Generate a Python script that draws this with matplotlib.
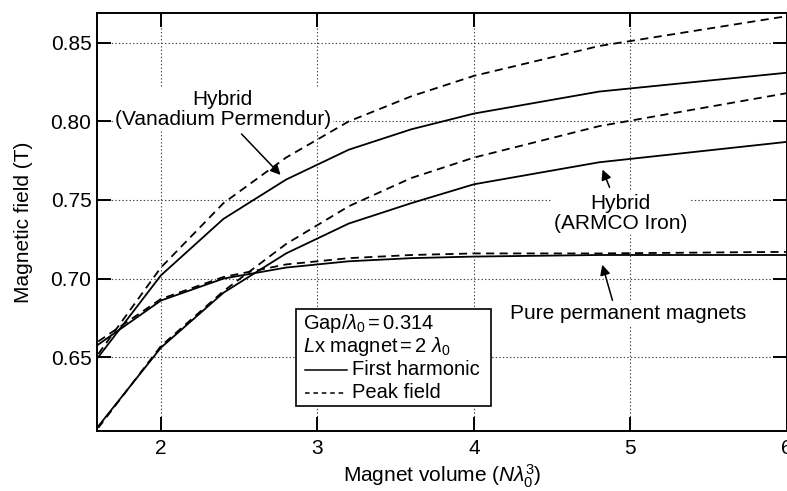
import matplotlib
matplotlib.use("Agg")
import matplotlib.pyplot as plt
from matplotlib.lines import Line2D
from matplotlib.patches import Rectangle

plt.rcParams['font.family'] = ['Liberation Sans', 'DejaVu Sans']
plt.rcParams['mathtext.fontset'] = 'custom'
plt.rcParams['mathtext.rm'] = 'Liberation Sans'
plt.rcParams['mathtext.it'] = 'Liberation Sans:italic'
plt.rcParams['mathtext.bf'] = 'Liberation Sans:bold'

# Magnet volume (N lambda0^3)
volume = [1.6, 2.0, 2.4, 2.8, 3.2, 3.6, 4.0, 4.8, 6.0]
# Hybrid (Vanadium Permendur)
vp_first = [0.650, 0.702, 0.738, 0.763, 0.782, 0.795, 0.805, 0.819, 0.831]
vp_peak = [0.652, 0.707, 0.748, 0.777, 0.800, 0.816, 0.829, 0.848, 0.867]
# Hybrid (ARMCO Iron)
ar_first = [0.606, 0.656, 0.691, 0.716, 0.735, 0.748, 0.760, 0.774, 0.787]
ar_peak = [0.605, 0.657, 0.692, 0.722, 0.746, 0.764, 0.777, 0.797, 0.818]
# Pure permanent magnets
pm_first = [0.658, 0.686, 0.700, 0.707, 0.711, 0.713, 0.714, 0.715, 0.715]
pm_peak = [0.660, 0.687, 0.701, 0.709, 0.713, 0.715, 0.716, 0.716, 0.717]

xticks = [2, 3, 4, 5, 6]
yticks = [0.65, 0.70, 0.75, 0.80, 0.85]
ytick_labels = ["0.65", "0.70", "0.75", "0.80", "0.85"]

W, H = 787, 491
fig = plt.figure(figsize=(W / 100, H / 100), dpi=100)
ax = fig.add_axes([97 / W, 60 / H, 690 / W, 418 / H])

solid = dict(color='black', lw=1.3, linestyle='-', zorder=4)
dashed = dict(color='black', lw=1.3, linestyle=(0, (4.5, 3)), zorder=4)
for first, peak in [(vp_first, vp_peak), (ar_first, ar_peak), (pm_first, pm_peak)]:
    ax.plot(volume, first, **solid)
    ax.plot(volume, peak, **dashed)

ax.set_xlim(1.592, 6.0)
ax.set_ylim(0.603, 0.869)
ax.set_xticks(xticks)
ax.set_yticks(yticks)
ax.set_yticklabels(ytick_labels)
ax.grid(True, linestyle=(0, (1.2, 2)), color='0.25', lw=0.8, zorder=0)
ax.set_axisbelow(True)
ax.tick_params(direction='in', length=10, width=1.4, top=True, right=True,
               labelsize=15)
ax.tick_params(axis='x', pad=6)
ax.tick_params(axis='y', pad=4)
for s in ax.spines.values():
    s.set_linewidth(1.4)

ax.set_xlabel(r"Magnet volume ($N\lambda_0^3$)", fontsize=15, labelpad=3)
ax.set_ylabel("Magnetic field (T)", fontsize=15, labelpad=13)

bb = dict(facecolor='white', edgecolor='none', pad=1.5)
ax.text(2.395, 0.8075, "Hybrid\n(Vanadium Permendur)", ha='center', va='center',
        fontsize=15, linespacing=1.1, bbox=bb, zorder=3)
ax.annotate("", xy=(2.777, 0.7647), xytext=(2.503, 0.7933),
            arrowprops=dict(arrowstyle='-|>', color='black', lw=1.1,
                            mutation_scale=15), zorder=5)

ax.text(4.936, 0.7414, "Hybrid\n(ARMCO Iron)", ha='center', va='center',
        fontsize=15, linespacing=1.1, bbox=bb, zorder=3)
ax.annotate("", xy=(4.815, 0.771), xytext=(4.873, 0.7564),
            arrowprops=dict(arrowstyle='-|>', color='black', lw=1.1,
                            mutation_scale=15), zorder=5)

ax.text(4.987, 0.678, "Pure permanent magnets", ha='center', va='center',
        fontsize=15, bbox=bb, zorder=3)
ax.annotate("", xy=(4.815, 0.7105), xytext=(4.89, 0.6844),
            arrowprops=dict(arrowstyle='-|>', color='black', lw=1.1,
                            mutation_scale=15), zorder=5)

# legend box
ax.add_patch(Rectangle((0.2884, 0.0598), 0.2826, 0.2321, transform=ax.transAxes,
                       facecolor='white', edgecolor='black', lw=1.2, zorder=6))
tx = 0.2986
ax.text(tx, 0.258, r"Gap/$\lambda_0$$\,$=$\,$0.314", transform=ax.transAxes,
        fontsize=14.5, va='center', ha='left', zorder=7)
ax.text(tx, 0.201, r"$L$x magnet$\,$=$\,$2 $\lambda_0$", transform=ax.transAxes,
        fontsize=14.5, va='center', ha='left', zorder=7)
ax.add_line(Line2D([0.301, 0.3623], [0.146, 0.146], transform=ax.transAxes,
                   color='black', lw=1.1, zorder=7))
ax.add_line(Line2D([0.301, 0.3623], [0.091, 0.091], transform=ax.transAxes,
                   color='black', lw=1.1, linestyle=(0, (3, 2.5)), zorder=7))
ax.text(0.3696, 0.146, "First harmonic", transform=ax.transAxes,
        fontsize=14.5, va='center', ha='left', zorder=7)
ax.text(0.3696, 0.091, "Peak field", transform=ax.transAxes,
        fontsize=14.5, va='center', ha='left', zorder=7)

fig.savefig("out.png", dpi=100)
